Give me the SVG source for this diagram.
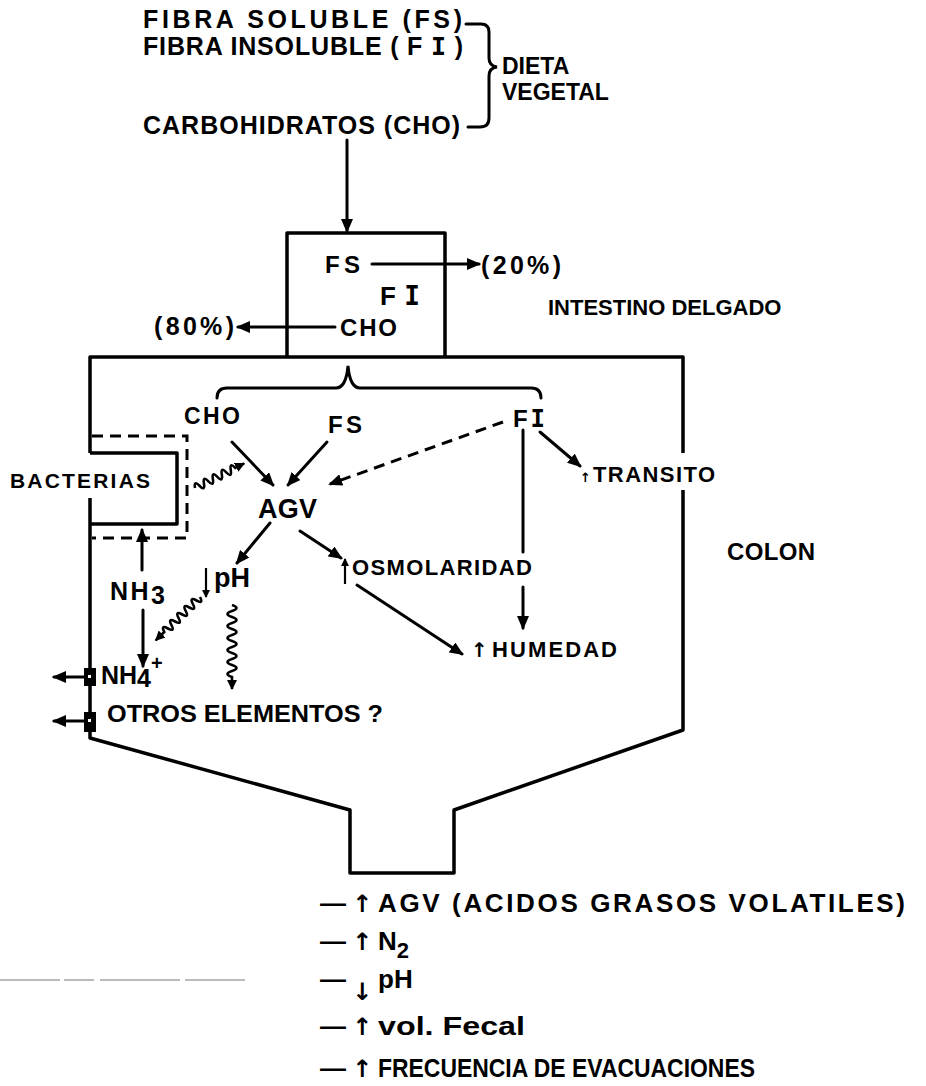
<svg xmlns="http://www.w3.org/2000/svg" width="926" height="1086" viewBox="0 0 926 1086">
<style>
.t{font-family:"Liberation Sans",Arial,sans-serif;font-weight:bold;fill:#000}
.m{font-family:"DejaVu Sans Mono",monospace;font-weight:bold}
.ar{font-family:"DejaVu Sans",sans-serif;font-weight:bold}
.ln{stroke:#000;stroke-width:3;fill:none;stroke-linecap:round}
.thin{stroke:#000;stroke-width:2.2;fill:none}
.wall{stroke:#000;stroke-width:3.5;fill:none;stroke-linejoin:round}
.dash{stroke:#000;stroke-width:3;fill:none;stroke-dasharray:11 7}
.wv{stroke:#000;stroke-width:2.6;fill:none}
</style>
<defs>
<marker id="ah" markerUnits="userSpaceOnUse" markerWidth="14" markerHeight="12" refX="12" refY="6" orient="auto">
<path d="M0,0 L14,6 L0,12 z" fill="#000"/>
</marker>
<marker id="ahs" markerUnits="userSpaceOnUse" markerWidth="10" markerHeight="10" refX="9" refY="5" orient="auto">
<path d="M0,0 L10,5 L0,10 z" fill="#000"/>
</marker>
<marker id="aht" markerUnits="userSpaceOnUse" markerWidth="8" markerHeight="8" refX="7" refY="4" orient="auto">
<path d="M0,0 L8,4 L0,8 z" fill="#000"/>
</marker>
</defs>

<g id="dieta">
<text class="t" x="143" y="28" font-size="25" textLength="319" lengthAdjust="spacing">FIBRA SOLUBLE  (FS)</text>
<text class="t" x="143" y="55" font-size="25" textLength="320" lengthAdjust="spacing">FIBRA INSOLUBLE ( F <tspan class="m">I</tspan> )</text>
<text class="t" x="143" y="134" font-size="25" textLength="317" lengthAdjust="spacing">CARBOHIDRATOS (CHO)</text>
<path class="ln" d="M466,24 L481,24 Q489,24 489,32 L489,58 Q489,66 497,67 Q489,68 489,76 L489,118 Q489,127 480,127 L468,127"/>
<text class="t" x="502" y="74" font-size="23">DIETA</text>
<text class="t" x="502" y="100" font-size="23">VEGETAL</text>
</g>

<g id="intestino-delgado">
<path class="wall" d="M287,357 L287,233 L445,233 L445,357"/>
<text class="t" x="325" y="273" font-size="24" textLength="35" lengthAdjust="spacing">FS</text>
<text class="t" x="481" y="274" font-size="25" textLength="80" lengthAdjust="spacing">(20%)</text>
<text class="t" x="380" y="305" font-size="26" textLength="40" lengthAdjust="spacing">F<tspan class="m">I</tspan></text>
<text class="t" x="340" y="336" font-size="24" textLength="57" lengthAdjust="spacing">CHO</text>
<text class="t" x="154" y="335" font-size="25" textLength="80" lengthAdjust="spacing">(80%)</text>
<text class="t" x="548" y="315" font-size="22">INTESTINO DELGADO</text>
</g>

<g id="colon">
<path class="wall" d="M90,453 L90,357 L683,357 L683,453"/>
<path class="wall" d="M683,490 L683,730 L454,810 L454,873 L350,873 L350,810 L90,738 L90,498"/>
<text class="t" x="727" y="560" font-size="24" textLength="88" lengthAdjust="spacing">COLON</text>
<path class="ln" d="M217,398 Q217,388 227,388 L336,388 Q346,388 348,366 Q350,388 360,388 L531,388 Q541,388 541,398"/>
<text class="t" x="184" y="424" font-size="23" textLength="56" lengthAdjust="spacing">CHO</text>
<text class="t" x="328" y="433" font-size="24" textLength="34" lengthAdjust="spacing">FS</text>
<text class="t" x="513" y="427" font-size="24" textLength="32" lengthAdjust="spacing">F<tspan class="m">I</tspan></text>
<text class="t" x="258" y="518" font-size="27" textLength="59" lengthAdjust="spacing">AGV</text>
<text class="t" y="482" font-size="22"><tspan class="ar" x="580" font-size="13">↑</tspan><tspan x="593" textLength="122" lengthAdjust="spacing">TRANSITO</tspan></text>
<text class="t" x="214" y="587" font-size="27">pH</text>
<text class="t" x="352" y="575" font-size="22" textLength="180" lengthAdjust="spacing">OSMOLARIDAD</text>
<text class="t" y="657" font-size="22"><tspan class="ar" x="471" font-size="20">↑</tspan><tspan x="492" textLength="125" lengthAdjust="spacing">HUMEDAD</tspan></text>
</g>

<g id="bacterias">
<path class="wall" d="M90,453 L177,453 L177,524 L90,524"/>
<path class="dash" d="M92,436 L187,436 L187,538 L92,538"/>
<text class="t" x="10" y="488" font-size="21" textLength="140" lengthAdjust="spacing">BACTERIAS</text>
</g>

<g id="amonio">
<text class="t" x="110" y="600" font-size="25" textLength="55" lengthAdjust="spacing">NH<tspan dy="4">3</tspan></text>
<text class="t" x="101" y="684" font-size="25">NH<tspan dy="3">4</tspan><tspan dy="-17" font-size="20">+</tspan></text>
<rect x="84" y="668" width="12" height="18" fill="#000"/>
<rect x="88" y="675" width="3" height="3" fill="#fff"/>
<rect x="84" y="712" width="12" height="20" fill="#000"/>
<rect x="88" y="719" width="3" height="3" fill="#fff"/>
<text class="t" x="107" y="722" font-size="24" textLength="276" lengthAdjust="spacingAndGlyphs">OTROS ELEMENTOS ?</text>
</g>

<g id="connectors">
<line class="ln" x1="347" y1="140" x2="347" y2="231" marker-end="url(#ah)"/>
<line class="ln" x1="372" y1="264" x2="479" y2="264" marker-end="url(#ah)"/>
<line class="ln" x1="335" y1="327" x2="238" y2="327" marker-end="url(#ah)"/>
<line class="ln" x1="232" y1="442" x2="273" y2="485" marker-end="url(#ah)"/>
<line class="ln" x1="327" y1="442" x2="288" y2="485" marker-end="url(#ah)"/>
<line class="dash" x1="503" y1="422" x2="330" y2="484" marker-end="url(#ah)"/>
<line class="ln" x1="540" y1="432" x2="580" y2="466" marker-end="url(#ah)"/>
<line class="ln" x1="270" y1="523" x2="237" y2="563" marker-end="url(#ah)"/>
<line class="ln" x1="300" y1="531" x2="341" y2="558" marker-end="url(#ah)"/>
<line class="ln" x1="523" y1="430" x2="523" y2="552"/>
<line class="ln" x1="523" y1="587" x2="523" y2="628" marker-end="url(#ah)"/>
<line class="ln" x1="357" y1="585" x2="462" y2="654" marker-end="url(#ah)"/>
<line class="ln" x1="142" y1="570" x2="142" y2="530" marker-end="url(#ah)"/>
<line class="ln" x1="143" y1="610" x2="143" y2="666" marker-end="url(#ah)"/>
<line class="ln" x1="84" y1="677" x2="54" y2="677" marker-end="url(#ah)"/>
<line class="ln" x1="84" y1="721" x2="54" y2="721" marker-end="url(#ah)"/>
<line class="thin" x1="206" y1="568" x2="206" y2="597" marker-end="url(#aht)"/>
<line class="thin" x1="345" y1="584" x2="345" y2="559" marker-end="url(#aht)"/>
<path class="wv" transform="translate(195,488) rotate(-26.6)" d="M0,0 q2.5,-8 5,0 t5,0 t5,0 t5,0 t5,0 t5,0 t5,0 t5,0 t5,0 l10,0" marker-end="url(#ahs)"/>
<path class="wv" transform="translate(200,597) rotate(135.6)" d="M0,0 q2.5,-8 5,0 t5,0 t5,0 t5,0 t5,0 t5,0 t5,0 t5,0 t5,0 t5,0 l12,0" marker-end="url(#ahs)"/>
<path class="wv" transform="translate(232,605) rotate(90)" d="M0,0 q3,-9 6,0 t6,0 t6,0 t6,0 t6,0 t6,0 t6,0 t6,0 t6,0 t6,0 t6,0 t6,0 l12,0" marker-end="url(#ahs)"/>
</g>

<g id="resultados">
<text class="t" y="912" font-size="26"><tspan x="320">—</tspan><tspan class="ar" x="352" font-size="24">↑</tspan><tspan x="378" textLength="527" lengthAdjust="spacing">AGV (ACIDOS GRASOS VOLATILES)</tspan></text>
<text class="t" y="950" font-size="26"><tspan x="320">—</tspan><tspan class="ar" x="352" font-size="24">↑</tspan><tspan x="378">N</tspan><tspan dy="8" font-size="22">2</tspan></text>
<text class="t" y="988" font-size="26"><tspan x="320">—</tspan><tspan class="ar" x="352" dy="12" font-size="24">↓</tspan><tspan x="378" dy="-12">pH</tspan></text>
<text class="t" y="1035" font-size="26"><tspan x="320">—</tspan><tspan class="ar" x="352" font-size="24">↑</tspan><tspan x="378" textLength="147" lengthAdjust="spacingAndGlyphs">vol. Fecal</tspan></text>
<text class="t" y="1077" font-size="26"><tspan x="320">—</tspan><tspan class="ar" x="352" font-size="24">↑</tspan><tspan x="378" textLength="377" lengthAdjust="spacingAndGlyphs">FRECUENCIA DE EVACUACIONES</tspan></text>
</g>

<line x1="0" y1="980" x2="245" y2="980" stroke="#777" stroke-width="1" stroke-dasharray="60 4 30 6 80 5"/>
</svg>
